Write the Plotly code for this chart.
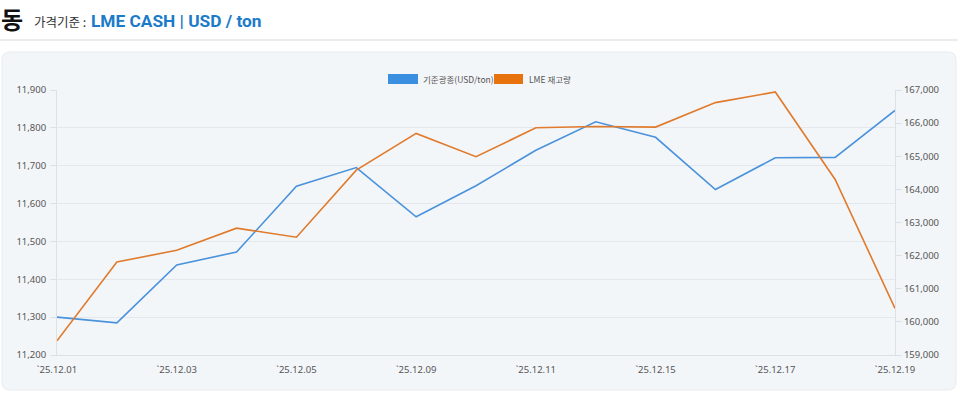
import plotly.graph_objects as go

dates = ["25.12.01", "25.12.02", "25.12.03", "25.12.04", "25.12.05", "25.12.08", "25.12.09",
         "25.12.10", "25.12.11", "25.12.12", "25.12.15", "25.12.16", "25.12.17", "25.12.18", "25.12.19"]
price = [11300, 11285, 11438, 11472, 11646, 11695, 11565, 11647, 11741, 11816, 11775, 11637, 11721, 11722, 11846]
stock = [159430, 161810, 162160, 162830, 162555, 164580, 165690, 164985, 165860, 165900, 165880, 166620, 166940, 164300, 160410]
series_names = ["기준광종(USD/ton)", "LME 재고량"]
left_ticks = [11200, 11300, 11400, 11500, 11600, 11700, 11800, 11900]
right_ticks = [159000, 160000, 161000, 162000, 163000, 164000, 165000, 166000, 167000]

W, H = 960, 394
ML, MR, MT, MB = 57, 65, 90, 39
PW = W - ML - MR
PH = H - MT - MB

def px(x):
    return (x - ML) / PW

def py(y):
    return (H - MB - y) / PH

FONT = "Noto Sans, Noto Sans CJK KR, sans-serif"
KFONT = "Noto Sans CJK KR, sans-serif"
BLUE = "#4a92dc"
ORANGE = "#e07a2c"

xlabels = ["`" + d for d in dates]

fig = go.Figure()
fig.add_trace(go.Scatter(x=xlabels, y=price, mode="lines", name=series_names[0],
                         line=dict(color=BLUE, width=1.6), yaxis="y"))
fig.add_trace(go.Scatter(x=xlabels, y=stock, mode="lines", name=series_names[1],
                         line=dict(color=ORANGE, width=1.6), yaxis="y2"))

# rounded card background
x0, x1, y0, y1, r = 2, 956, 52, 390, 8
def P(x, y):
    return f"{px(x)},{py(y)}"
card = (f"M {P(x0 + r, y0)} L {P(x1 - r, y0)} Q {P(x1, y0)} {P(x1, y0 + r)} "
        f"L {P(x1, y1 - r)} Q {P(x1, y1)} {P(x1 - r, y1)} L {P(x0 + r, y1)} "
        f"Q {P(x0, y1)} {P(x0, y1 - r)} L {P(x0, y0 + r)} Q {P(x0, y0)} {P(x0 + r, y0)} Z")

shapes = [
    dict(type="path", path=card, xref="paper", yref="paper", fillcolor="#f3f6f9",
         line=dict(color="#e8ebef", width=1), layer="below"),
    dict(type="line", xref="paper", yref="paper", x0=px(0), x1=px(958), y0=py(40), y1=py(40),
         line=dict(color="#e4e6ea", width=1.5), layer="below"),
    # legend swatches
    dict(type="rect", xref="paper", yref="paper", x0=px(388), x1=px(418), y0=py(84), y1=py(74),
         fillcolor="#3a8fe0", line=dict(width=0)),
    dict(type="rect", xref="paper", yref="paper", x0=px(494), x1=px(523), y0=py(84), y1=py(74),
         fillcolor="#e8720c", line=dict(width=0)),
]

annotations = [
    dict(text="<b>동</b>", x=px(-1), y=py(18), xref="paper", yref="paper", xanchor="left", yanchor="middle",
         showarrow=False, font=dict(family=KFONT, size=24, color="#111")),
    dict(text="가격기준 :", x=px(32), y=py(21), xref="paper", yref="paper", xanchor="left", yanchor="middle",
         showarrow=False, font=dict(family=KFONT, size=12.5, color="#333")),
    dict(text="<b>LME CASH | USD / ton</b>", x=px(89), y=py(21), xref="paper", yref="paper", xanchor="left",
         yanchor="middle", showarrow=False, font=dict(family="Roboto, Noto Sans, sans-serif", size=17.3, color="#1b7bc9")),
    dict(text=series_names[0], x=px(421), y=py(79), xref="paper", yref="paper", xanchor="left", yanchor="middle",
         showarrow=False, font=dict(family=KFONT, size=8.5, color="#555")),
    dict(text=series_names[1], x=px(527), y=py(79), xref="paper", yref="paper", xanchor="left", yanchor="middle",
         showarrow=False, font=dict(family=KFONT, size=8.5, color="#555")),
]

fig.update_layout(
    width=W, height=H,
    margin=dict(l=ML, r=MR, t=MT, b=MB, pad=0),
    paper_bgcolor="white",
    plot_bgcolor="rgba(0,0,0,0)",
    showlegend=False,
    shapes=shapes,
    annotations=annotations,
    font=dict(family=FONT, size=9.5, color="#555"),
    xaxis=dict(type="category", range=[0, len(dates) - 1],
               tickmode="array", tickvals=xlabels[::2], ticktext=xlabels[::2],
               showgrid=False, showline=True, linecolor="#dde0e5", linewidth=1,
               ticks="", ticklabelstandoff=6, tickfont=dict(size=9.5, color="#555"), zeroline=False),
    yaxis=dict(range=[11200, 11900], tickvals=left_ticks, tickformat=",",
               showgrid=True, gridcolor="#e4e8ed", gridwidth=1,
               showline=True, linecolor="#dde0e5", ticks="outside", ticklen=6,
               tickcolor="#dde0e5", ticklabelstandoff=2, zeroline=False,
               tickfont=dict(size=9.5, color="#555")),
    yaxis2=dict(range=[159000, 167000], tickvals=right_ticks, tickformat=",", overlaying="y",
                side="right", showgrid=False, showline=True, linecolor="#dde0e5",
                ticks="outside", ticklen=6, tickcolor="#dde0e5", zeroline=False,
                tickfont=dict(size=9.5, color="#555")),
)

fig.write_html("out.html", config={"displayModeBar": False},
               post_script="document.body.style.margin='0';document.body.style.overflow='hidden';")
